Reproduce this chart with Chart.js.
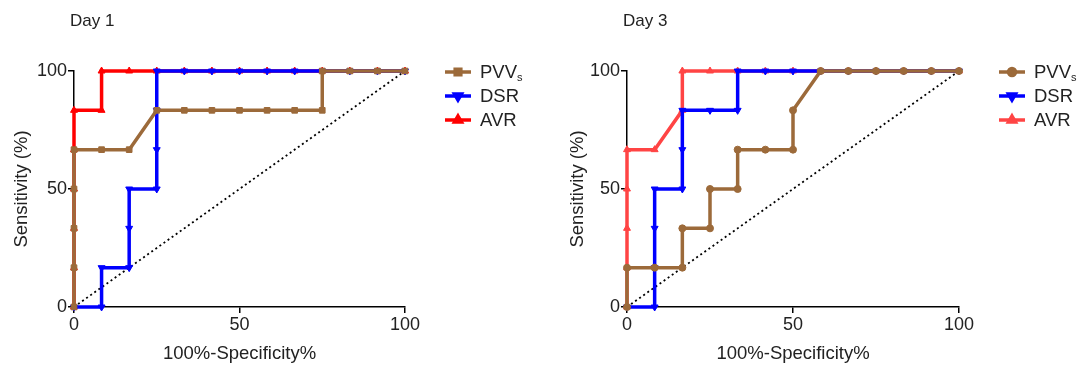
<!DOCTYPE html>
<html>
<head>
<meta charset="utf-8">
<script src="https://cdn.jsdelivr.net/npm/chart.js@4.4.1/dist/chart.umd.min.js"></script>
<style>
  html, body { margin: 0; padding: 0; background: #fff; }
  #wrap { width: 1078px; height: 365px; display: flex; }
  .box { width: 539px; height: 365px; position: relative; }
</style>
</head>
<body>
<div id="wrap">
  <div class="box"><canvas id="day1"></canvas></div>
  <div class="box"><canvas id="day3"></canvas></div>
</div>
<script>
// ROC curves, x = 100%-specificity, y = sensitivity
const titles = ["Day 1", "Day 3"];
const seriesNames = ["PVVs", "DSR", "AVR"];
const axisTicks = [0, 50, 100];
const diagX = [0, 100];
const diagY = [0, 100];

// day 1
const d1PvvX = [0, 0, 0, 0, 0, 8.33, 16.67, 25, 33.33, 41.67, 50, 58.33, 66.67, 75, 75, 83.33, 91.67, 100];
const d1PvvY = [0, 16.67, 33.33, 50, 66.67, 66.67, 66.67, 83.33, 83.33, 83.33, 83.33, 83.33, 83.33, 83.33, 100, 100, 100, 100];
const d1DsrX = [0, 8.33, 8.33, 16.67, 16.67, 16.67, 25, 25, 25, 25, 33.33, 41.67, 50, 58.33, 66.67, 75, 83.33, 91.67, 100];
const d1DsrY = [0, 0, 16.67, 16.67, 33.33, 50, 50, 66.67, 83.33, 100, 100, 100, 100, 100, 100, 100, 100, 100, 100];
const d1AvrX = [0, 0, 0, 0, 0, 0, 8.33, 8.33, 16.67, 25, 33.33, 41.67, 50, 58.33, 66.67, 75, 83.33, 91.67, 100];
const d1AvrY = [0, 16.67, 33.33, 50, 66.67, 83.33, 83.33, 100, 100, 100, 100, 100, 100, 100, 100, 100, 100, 100, 100];

// day 3
const d3PvvX = [0, 0, 8.33, 16.67, 16.67, 25, 25, 33.33, 33.33, 41.67, 50, 50, 58.33, 66.67, 75, 83.33, 91.67, 100];
const d3PvvY = [0, 16.67, 16.67, 16.67, 33.33, 33.33, 50, 50, 66.67, 66.67, 66.67, 83.33, 100, 100, 100, 100, 100, 100];
const d3DsrX = [0, 8.33, 8.33, 8.33, 8.33, 16.67, 16.67, 16.67, 25, 33.33, 33.33, 41.67, 50, 58.33, 66.67, 75, 83.33, 91.67, 100];
const d3DsrY = [0, 0, 16.67, 33.33, 50, 50, 66.67, 83.33, 83.33, 83.33, 100, 100, 100, 100, 100, 100, 100, 100, 100];
const d3AvrX = [0, 0, 0, 0, 0, 8.33, 16.67, 16.67, 25, 33.33, 41.67, 50, 58.33, 66.67, 75, 83.33, 91.67, 100];
const d3AvrY = [0, 16.67, 33.33, 50, 66.67, 66.67, 83.33, 100, 100, 100, 100, 100, 100, 100, 100, 100, 100, 100];

const FONT = "'Liberation Sans', Arial, Helvetica, sans-serif";
const TEXT = "#222";
const BROWN = "#9c6a3a";
const BLUE = "#0000ff";

function pts(xs, ys) {
  return xs.map((x, i) => ({ x: x, y: ys[i] }));
}

function series(label, xs, ys, color, style, rot) {
  return {
    label: label,
    data: pts(xs, ys),
    borderColor: color,
    backgroundColor: color,
    borderWidth: 3.5,
    pointStyle: style,
    pointRotation: rot || 0,
    pointRadius: style === "circle" ? 3.5 : 4,
    pointBorderWidth: 1,
    pointBorderColor: color,
    pointBackgroundColor: color,
    clip: false,
    tension: 0,
  };
}

// title text + legend with subscript "s"
const decor = {
  id: "decor",
  afterDraw(chart, args, opts) {
    const ctx = chart.ctx;
    const area = chart.chartArea;
    ctx.save();
    ctx.fillStyle = TEXT;
    ctx.font = "17px " + FONT;
    ctx.textBaseline = "middle";
    ctx.textAlign = "left";
    ctx.fillText(opts.title, area.left - 4, 21);

    const x0 = area.right + opts.legendGap;
    chart.data.datasets.forEach((ds, i) => {
      if (ds.noLegend) return;
      const y = area.top + 1 + i * 24;
      ctx.strokeStyle = ds.borderColor;
      ctx.lineWidth = 3.5;
      ctx.beginPath();
      ctx.moveTo(x0, y);
      ctx.lineTo(x0 + 26, y);
      ctx.stroke();
      ctx.fillStyle = ds.borderColor;
      ctx.strokeStyle = ds.borderColor;
      Chart.helpers.drawPoint(ctx, {
        pointStyle: ds.pointStyle,
        radius: ds.pointRadius,
        rotation: ds.pointRotation,
        borderWidth: 1,
      }, x0 + 13, y);
      ctx.fillStyle = TEXT;
      ctx.font = "18.5px " + FONT;
      ctx.textBaseline = "middle";
      let label = ds.label;
      let sub = "";
      if (label === "PVVs") { label = "PVV"; sub = "s"; }
      ctx.fillText(label, x0 + 35, y + 1);
      if (sub) {
        const w = ctx.measureText(label).width;
        ctx.font = "11px " + FONT;
        ctx.fillText(sub, x0 + 35 + w, y + 6);
      }
    });
    ctx.restore();
  },
};

function makeChart(id, title, data, leftW, rightPad, yTitlePad) {
  const datasets = [
    series(seriesNames[0], data[0], data[1], BROWN, data[6], 0),
    series(seriesNames[1], data[2], data[3], BLUE, "triangle", 180),
    series(seriesNames[2], data[4], data[5], data[7], "triangle", 0),
    {
      label: "ref",
      noLegend: true,
      data: pts(diagX, diagY),
      borderColor: "#000",
      borderWidth: 1.8,
      borderDash: [2, 3],
      pointRadius: 0,
      clip: false,
    },
  ];

  const tickCfg = {
    color: TEXT,
    font: { family: FONT, size: 18 },
    padding: 1,
    autoSkip: false,
    maxRotation: 0,
  };

  return new Chart(document.getElementById(id), {
    type: "line",
    data: { datasets },
    options: {
      responsive: true,
      maintainAspectRatio: false,
      animation: false,
      layout: { padding: { left: 0, right: rightPad, top: 71, bottom: 0 } },
      plugins: {
        legend: { display: false },
        tooltip: { enabled: false },
        decor: { title: title, legendGap: 40 },
      },
      scales: {
        x: {
          type: "linear",
          min: 0,
          max: 100,
          afterBuildTicks: (s) => { s.ticks = axisTicks.map((v) => ({ value: v })); },
          afterFit: (s) => { s.height = 58; },
          ticks: tickCfg,
          grid: { drawOnChartArea: false, drawTicks: true, tickLength: 6, color: "#000", lineWidth: 1.5 },
          border: { color: "#000", width: 1.5 },
          title: {
            display: true,
            text: "100%-Specificity%",
            color: TEXT,
            font: { family: FONT, size: 18.5 },
            padding: { top: 0, bottom: 0 },
          },
        },
        y: {
          type: "linear",
          min: 0,
          max: 100,
          afterBuildTicks: (s) => { s.ticks = axisTicks.map((v) => ({ value: v })); },
          afterFit: (s) => { s.width = leftW; },
          ticks: tickCfg,
          grid: { drawOnChartArea: false, drawTicks: true, tickLength: 6, color: "#000", lineWidth: 1.5 },
          border: { color: "#000", width: 1.5 },
          title: {
            display: true,
            text: "Sensitivity (%)",
            color: TEXT,
            font: { family: FONT, size: 18.5 },
            padding: { top: yTitlePad, bottom: 0 },
          },
        },
      },
    },
    plugins: [decor],
  });
}

makeChart("day1", titles[0],
  [d1PvvX, d1PvvY, d1DsrX, d1DsrY, d1AvrX, d1AvrY, "rect", "#ff0000"],
  74, 134, 11);
makeChart("day3", titles[1],
  [d3PvvX, d3PvvY, d3DsrX, d3DsrY, d3AvrX, d3AvrY, "circle", "#ff4444"],
  88, 119, 28);
</script>
</body>
</html>
